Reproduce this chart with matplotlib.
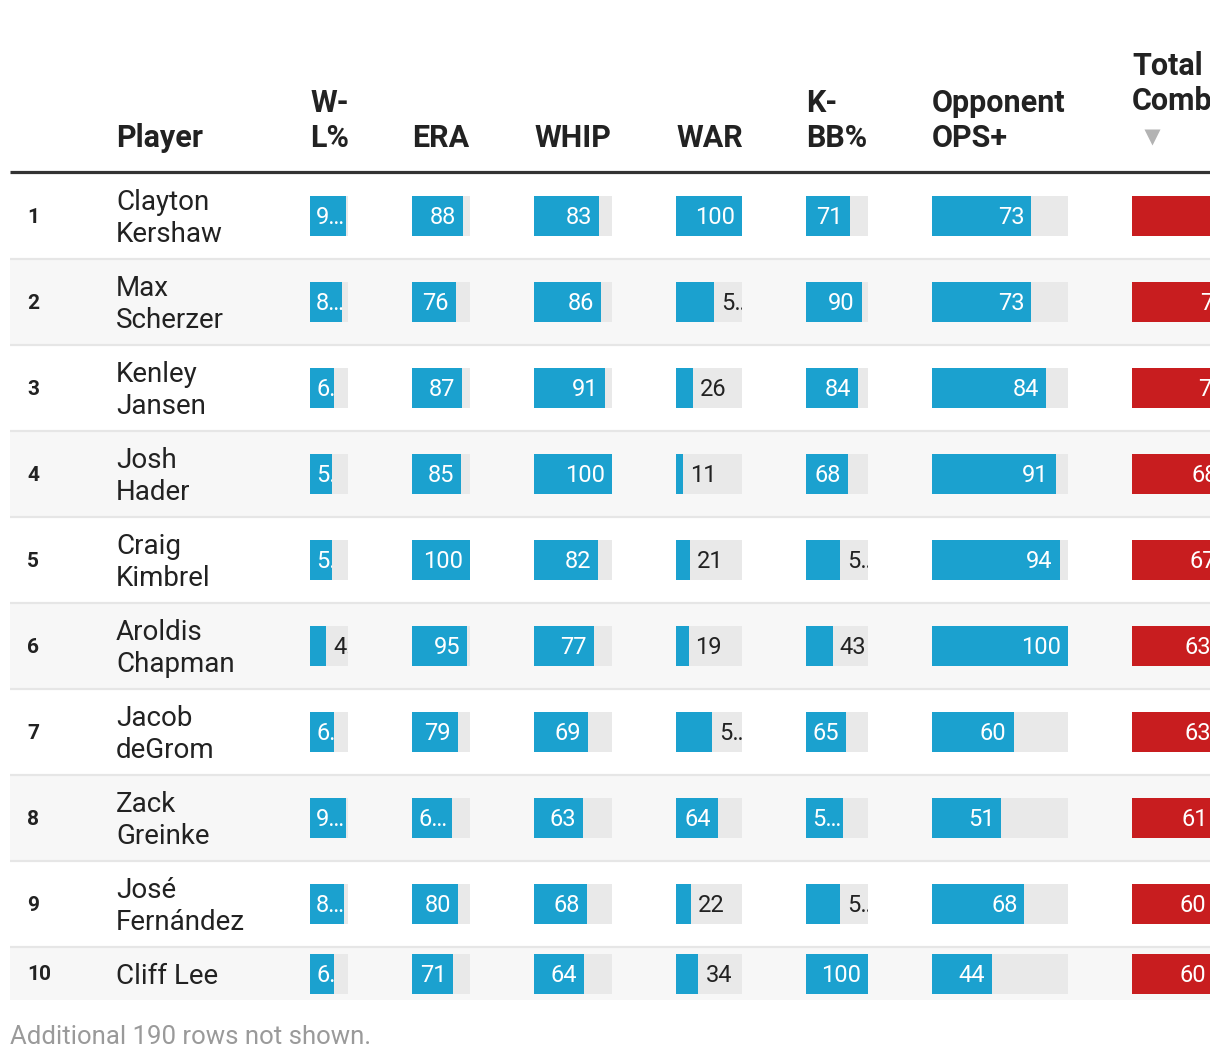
"""Top pitchers table: metric bars per column, top 10 rows."""

import matplotlib.pyplot as plt
from matplotlib.transforms import Bbox, TransformedBbox

plt.rcParams["font.family"] = ["Roboto", "DejaVu Sans"]

# ---- data -------------------------------------------------------------
ranks = ["1", "2", "3", "4", "5", "6", "7", "8", "9", "10"]
players = ["Clayton\nKershaw", "Max\nScherzer", "Kenley\nJansen", "Josh\nHader",
           "Craig\nKimbrel", "Aroldis\nChapman", "Jacob\ndeGrom", "Zack\nGreinke",
           "José\nFernández", "Cliff Lee"]
headers = ["W-\nL%", "ERA", "WHIP", "WAR", "K-\nBB%", "Opponent\nOPS+", "Total\nCombined"]

wl = [95, 84, 63, 58, 58, 42, 63, 95, 89, 63]
era = [88, 76, 87, 85, 100, 95, 79, 69, 80, 71]
whip = [83, 86, 91, 100, 82, 77, 69, 63, 68, 64]
war = [100, 58, 26, 11, 21, 19, 55, 64, 22, 34]
kbb = [71, 90, 84, 68, 55, 43, 65, 59, 55, 100]
ops = [73, 73, 84, 91, 94, 100, 60, 51, 68, 44]
total = [100, 75, 73, 68, 67, 63, 63, 61, 60, 60]

# labels as shown (long decimals get cut by the cell)
wl_labels = ["9…", "8…", "6.", "5.", "5.", "4.…", "6.", "9…", "8…", "6."]
era_labels = ["88", "76", "87", "85", "100", "95", "79", "6…", "80", "71"]
whip_labels = [str(v) for v in whip]
war_labels = ["100", "5…", "26", "11", "21", "19", "5…", "64", "22", "34"]
kbb_labels = ["71", "90", "84", "68", "5…", "43", "65", "5…", "5…", "100"]
ops_labels = [str(v) for v in ops]
total_labels = [str(v) for v in total]

# which labels sit to the right of the bar, in dark text
outside = {0: [5], 3: [1, 2, 3, 4, 5, 6, 8, 9], 4: [4, 5, 8]}

# ---- layout (pixels) ----------------------------------------------------
W, H = 1220, 1060
col_x = [310, 412, 534, 676, 806, 932, 1132]
col_w = [38, 58, 78, 66, 62, 136, 136]
row_tops = [173 + 86 * i for i in range(10)] + [1000]
BLUE = "#1ba1cf"
RED = "#c81d1f"
BG = "#e9e9e9"
DARK = "#222222"

series = [wl, era, whip, war, kbb, ops, total]
labels = [wl_labels, era_labels, whip_labels, war_labels, kbb_labels, ops_labels, total_labels]

fig = plt.figure(figsize=(W / 100, H / 100), dpi=100)
ax = fig.add_axes([0, 0, 1210 / W, 1])
ax.set_xlim(0, 1210)
ax.set_ylim(H, 0)
ax.axis("off")


def clip_to(t, x0, y0, x1, y1):
    box = Bbox.from_extents(x0, y0, x1, y1)
    t.set_clip_box(TransformedBbox(box, ax.transData))
    t.set_clip_on(True)


centers = []
for i in range(10):
    top, bot = row_tops[i], row_tops[i + 1]
    c = (top + bot) / 2
    centers.append(c)
    if i % 2 == 1:
        ax.axhspan(top, bot, xmin=10 / 1210, xmax=1, color="#f7f7f7", lw=0, zorder=0)
    if i < 9:
        ax.hlines(bot, 10, 1210, color="#e6e6e6", lw=1.6, zorder=1)

# header
ax.hlines(172, 10, 1210, color="#333333", lw=2.3, zorder=3)
ax.text(116, 147, "Player", fontsize=22, fontweight="bold", color=DARK, va="baseline")
for j, h in enumerate(headers):
    lines = h.split("\n")
    base = 147 if j < 6 else 110
    for k, line in enumerate(reversed(lines)):
        ax.text(col_x[j], base - 35 * k, line, fontsize=22, fontweight="bold",
                color=DARK, va="baseline", clip_on=True)
ax.plot([1152], [137], marker="v", ms=11, color="#b3b3b3", mec="none")

# rank + player
for i in range(10):
    c = centers[i]
    ax.text(27, c + 7, ranks[i], fontsize=15, fontweight="bold", color=DARK, va="baseline")
    lines = players[i].split("\n")
    if len(lines) == 1:
        ax.text(116, c + 10, lines[0], fontsize=20, color=DARK, va="baseline")
    else:
        ax.text(116, c - 6, lines[0], fontsize=20, color=DARK, va="baseline")
        ax.text(116, c + 26, lines[1], fontsize=20, color=DARK, va="baseline")

# metric bars
for j, vals in enumerate(series):
    x0, w = col_x[j], col_w[j]
    color = RED if j == 6 else BLUE
    if j < 6:
        ax.barh(centers, [w] * 10, left=x0, height=40, color=BG, zorder=2)
    ax.barh(centers, [v / 100 * w for v in vals], left=x0, height=40,
            color=color, zorder=3)
    for i, v in enumerate(vals):
        end = x0 + v / 100 * w
        lab = labels[j][i]
        c = centers[i]
        if i in outside.get(j, []):
            t = ax.text(end + 7, c + 8, lab, fontsize=17, color=DARK,
                        va="baseline", ha="left", zorder=4)
            clip_to(t, x0, c - 20, x0 + w, c + 20)
        elif "…" in lab or "." in lab:
            t = ax.text(x0 + 6, c + 8, lab, fontsize=17, color="white",
                        va="baseline", ha="left", zorder=4)
            clip_to(t, x0, c - 20, end, c + 20)
        else:
            ax.text(end - 7, c + 8, lab, fontsize=17, color="white",
                    va="baseline", ha="right", zorder=4, clip_on=True)

ax.text(10, 1044, "Additional 190 rows not shown.", fontsize=18.5, color="#9a9a9a",
        va="baseline")

fig.savefig("out.png", dpi=100)
plt.close(fig)
